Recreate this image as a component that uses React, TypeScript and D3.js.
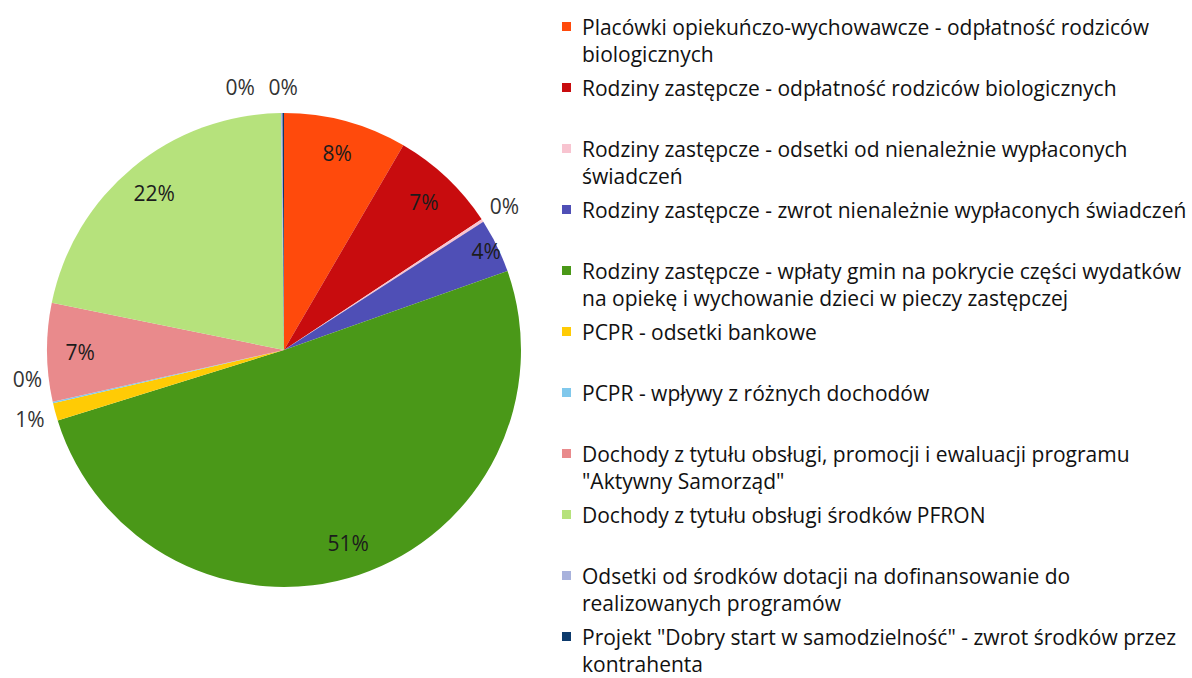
import * as d3 from 'd3';

// categories (legend order = slice order, clockwise from 12 o'clock)
const categories = [
  'Placówki opiekuńczo-wychowawcze - odpłatność rodziców\nbiologicznych',
  'Rodziny zastępcze - odpłatność rodziców biologicznych',
  'Rodziny zastępcze - odsetki od nienależnie wypłaconych\nświadczeń',
  'Rodziny zastępcze - zwrot nienależnie wypłaconych świadczeń',
  'Rodziny zastępcze - wpłaty gmin na pokrycie części wydatków\nna opiekę i wychowanie dzieci w pieczy zastępczej',
  'PCPR - odsetki bankowe',
  'PCPR - wpływy z różnych dochodów',
  'Dochody z tytułu obsługi, promocji i ewaluacji programu\n"Aktywny Samorząd"',
  'Dochody z tytułu obsługi środków PFRON',
  'Odsetki od środków dotacji na dofinansowanie do\nrealizowanych programów',
  'Projekt "Dobry start w samodzielność" - zwrot środków przez\nkontrahenta',
];

// share of total, %
const shares = [8.4, 7.3, 0.2, 3.7, 50.6, 1.2, 0.1, 6.7, 21.6, 0.1, 0.1];

const colors = [
  '#ff4a0c', '#c80c0e', '#f8c4d0', '#4f4fb6', '#4a9818', '#ffcb05',
  '#80c8ec', '#e98a8c', '#b6e27c', '#a8b2dc', '#0d3a6c',
];

const W = 1192;
const H = 678;
const cx = 284;
const cy = 350;
const R = 237;

type Lbl = { x: number; y: number; text: string; inside: boolean; angle: number };

export default function App() {
  const total = d3.sum(shares);
  const pie = d3.pie<number>().sort(null).value(d => d)(shares);
  const arc = d3.arc<d3.PieArcDatum<number>>().innerRadius(0).outerRadius(R);
  const pct = (v: number) => `${Math.round((v / total) * 100)}%`;

  const labels: Lbl[] = pie.map(p => {
    const mid = (p.startAngle + p.endAngle) / 2;
    const share = p.value / total;
    const inside = share > 0.02;
    // thin slices get their label pushed out toward the rim
    const r = inside ? R * (share < 0.05 ? 0.95 : 0.86) : R * 1.11;
    return {
      x: cx + r * Math.sin(mid),
      y: cy - r * Math.cos(mid),
      text: pct(p.value),
      inside,
      angle: mid,
    };
  });

  // push overlapping outside labels apart (like Excel's best fit)
  const lw = 40, lh = 24;
  for (let i = 0; i < labels.length; i++) {
    for (let j = i + 1; j < labels.length; j++) {
      const a = labels[i], b = labels[j];
      if (a.inside || b.inside) continue;
      if (Math.abs(a.x - b.x) < lw && Math.abs(a.y - b.y) < lh) {
        const top = Math.abs(Math.cos(a.angle)) > 0.7;
        if (top) a.x = b.x - lw - 3;
        else b.y = a.y - lh - 16;
      }
    }
  }

  const legendX = 562;
  const legendY = 27;
  const slot = 61;
  const lineH = 26.5;

  return (
    <svg width={W} height={H} style={{ position: 'absolute', left: 0, top: 0, background: '#fff' }}
      fontFamily="'Open Sans', sans-serif">
      <g transform={`translate(${cx},${cy})`}>
        {pie.map((p, i) => (
          <path key={i} d={arc(p) ?? ''} fill={colors[i]} />
        ))}
      </g>
      {labels.map((l, i) => (
        <text key={i} x={l.x} y={l.y} textAnchor="middle" dominantBaseline="central"
          fontSize={21} fill={l.inside ? '#1c1c1c' : '#333'}>
          {l.text}
        </text>
      ))}
      <g>
        {categories.map((c, i) => {
          const y = legendY + i * slot;
          return (
            <g key={i}>
              <rect x={legendX} y={y - 5} width={9} height={9} fill={colors[i]} />
              <g transform={`translate(${legendX + 20},${y})`}>
                {c.split('\n').map((line, k) => (
                  <text key={k} x={0} y={k * lineH} dominantBaseline="central" fontSize={21} fill="#111">
                    {line}
                  </text>
                ))}
              </g>
            </g>
          );
        })}
      </g>
    </svg>
  );
}
